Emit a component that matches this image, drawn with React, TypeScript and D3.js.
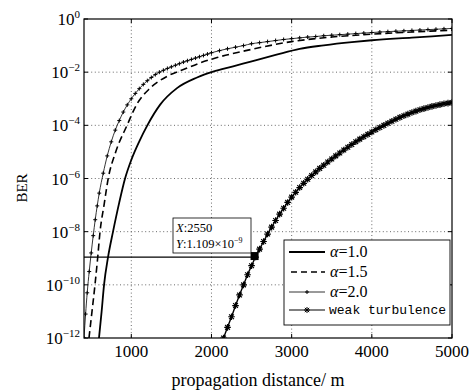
import React from "react";
import * as d3 from "d3";

// ---- data (distance in m, log10 BER) ----
const xTickValues = [1000, 2000, 3000, 4000, 5000];
const yTickExponents = [0, -2, -4, -6, -8, -10, -12];

const alpha10Dist = [597, 630, 660, 710, 772, 850, 922, 1000, 1100, 1200, 1360, 1570, 1820, 2020, 2270, 2490, 2800, 3100, 3400, 3750, 4000, 4500, 5000];
const alpha10Log = [-12, -11, -10, -8.955, -8, -6.9, -6, -5.3, -4.6, -4.0, -3.22, -2.6, -2.2, -1.98, -1.78, -1.6, -1.35, -1.12, -0.99, -0.87, -0.8, -0.7, -0.6];

const alpha15Dist = [472, 510, 547, 580, 610, 660, 712, 800, 947, 1070, 1235, 1450, 1650, 1860, 2070, 2490, 3000, 3500, 4000, 4500, 5000];
const alpha15Log = [-12, -11, -10, -9, -8, -7, -6, -5.05, -4, -3.2, -2.6, -2.15, -1.9, -1.65, -1.45, -1.15, -0.85, -0.68, -0.57, -0.49, -0.42];

const alpha20Dist = [410, 430, 450, 475, 500, 525, 550, 575, 600, 650, 700, 750, 800, 850, 900, 950, 1000, 1050, 1100, 1150, 1200, 1250, 1300, 1350, 1400, 1450, 1500, 1550, 1600, 1650, 1700, 1750, 1800, 1850, 1900, 1950, 2000, 2100, 2200, 2300, 2400, 2500, 2600, 2700, 2800, 2900, 3000, 3100, 3200, 3300, 3400, 3500, 3600, 3700, 3800, 3900, 4000, 4100, 4200, 4300, 4400, 4500, 4600, 4700, 4800, 4900, 5000];
const alpha20Log = [-12, -11.1, -10.3, -9.5, -8.8, -8.15, -7.55, -7.03, -6.55, -5.8, -5.15, -4.62, -4.18, -3.82, -3.5, -3.23, -3.0, -2.8, -2.62, -2.46, -2.32, -2.2, -2.09, -2.0, -1.93, -1.86, -1.8, -1.74, -1.68, -1.62, -1.57, -1.52, -1.47, -1.42, -1.37, -1.32, -1.27, -1.19, -1.12, -1.06, -1.0, -0.93, -0.89, -0.85, -0.81, -0.77, -0.74, -0.71, -0.68, -0.66, -0.63, -0.61, -0.59, -0.57, -0.55, -0.53, -0.51, -0.49, -0.475, -0.46, -0.445, -0.43, -0.415, -0.4, -0.385, -0.37, -0.355];

const weakDist = [2150, 2200, 2250, 2300, 2350, 2400, 2450, 2500, 2550, 2600, 2650, 2700, 2750, 2800, 2850, 2900, 2950, 3000, 3050, 3100, 3150, 3200, 3250, 3300, 3350, 3400, 3450, 3500, 3550, 3600, 3650, 3700, 3750, 3800, 3850, 3900, 3950, 4000, 4050, 4100, 4150, 4200, 4250, 4300, 4350, 4400, 4450, 4500, 4550, 4600, 4650, 4700, 4750, 4800, 4850, 4900, 4950, 5000];
const weakLog = [-12, -11.6, -11.2, -10.78, -10.38, -10.0, -9.62, -9.28, -8.955, -8.655, -8.37, -8.09, -7.83, -7.58, -7.34, -7.12, -6.9, -6.7, -6.52, -6.34, -6.18, -6.03, -5.885, -5.75, -5.62, -5.5, -5.38, -5.265, -5.15, -5.04, -4.93, -4.825, -4.72, -4.62, -4.52, -4.43, -4.34, -4.25, -4.165, -4.08, -4.0, -3.92, -3.845, -3.77, -3.7, -3.637, -3.577, -3.52, -3.466, -3.416, -3.37, -3.327, -3.288, -3.252, -3.22, -3.19, -3.165, -3.14];

const tipX = 2550;
const tipY = 1.109e-9;

const legendLabels = ["=1.0", "=1.5", "=2.0", "weak turbulence"];

const W = 469, H = 391;
const L = 84, R = 452, T = 19, B = 338;
const SERIF = "Liberation Serif";
const MONO = "Liberation Mono";

function toPts(ds: number[], ls: number[]): [number, number][] {
  return ds.map((d, i) => [d, Math.pow(10, ls[i])]);
}

function star(r: number) {
  const a = r * 0.72;
  return `M${-r},0H${r}M0,${-r}V${r}M${-a},${-a}L${a},${a}M${-a},${a}L${a},${-a}`;
}
function plus(r: number) {
  return `M${-r},0H${r}M0,${-r}V${r}`;
}

const serifStyle = { fontFamily: SERIF };

export default function App() {
  const x = d3.scaleLinear().domain([410, 5000]).range([L, R]);
  const y = d3.scaleLog().domain([1e-12, 1]).range([B, T]);
  const line = d3
    .line<[number, number]>()
    .x((d) => x(d[0]))
    .y((d) => y(d[1]))
    .curve(d3.curveMonotoneX);

  const s10 = toPts(alpha10Dist, alpha10Log);
  const s15 = toPts(alpha15Dist, alpha15Log);
  const s20 = toPts(alpha20Dist, alpha20Log);
  const sw = toPts(weakDist, weakLog);

  const gridX = xTickValues.filter((v) => v < 5000);
  const gridY = yTickExponents.filter((e) => e < 0 && e > -12);

  const legendY = [252, 272, 292, 310];

  return (
    <svg
      width={W}
      height={H}
      style={{ position: "absolute", left: 0, top: 0, background: "#fff" }}
    >
      <defs>
        <clipPath id="plotclip">
          <rect x={L} y={T} width={R - L} height={B - T} />
        </clipPath>
      </defs>
      <rect x={0} y={0} width={W} height={H} fill="#fff" />
      {/* grid */}
      <g stroke="#444" strokeWidth={0.8} strokeDasharray="1,2.6">
        {gridX.map((v) => (
          <line key={"gx" + v} x1={x(v)} x2={x(v)} y1={T} y2={B} />
        ))}
        {gridY.map((e) => (
          <line key={"gy" + e} x1={L} x2={R} y1={y(Math.pow(10, e))} y2={y(Math.pow(10, e))} />
        ))}
      </g>
      {/* ticks */}
      <g stroke="#000" strokeWidth={1}>
        {xTickValues.map((v) => (
          <g key={"tx" + v}>
            <line x1={x(v)} x2={x(v)} y1={B} y2={B - 4} />
            <line x1={x(v)} x2={x(v)} y1={T} y2={T + 4} />
          </g>
        ))}
        {yTickExponents.map((e) => (
          <g key={"ty" + e}>
            <line x1={L} x2={L + 4} y1={y(Math.pow(10, e))} y2={y(Math.pow(10, e))} />
            <line x1={R} x2={R - 4} y1={y(Math.pow(10, e))} y2={y(Math.pow(10, e))} />
          </g>
        ))}
      </g>
      {/* series */}
      <g clipPath="url(#plotclip)" fill="none" stroke="#000">
        <path d={line(s10) || ""} strokeWidth={1.8} />
        <path d={line(s15) || ""} strokeWidth={1.6} strokeDasharray="7,4" />
        <path d={line(s20) || ""} strokeWidth={0.8} />
        {s20.map((p, i) => (
          <path key={"m20" + i} d={plus(2)} transform={`translate(${x(p[0])},${y(p[1])})`} strokeWidth={1} />
        ))}
        <path d={line(sw) || ""} strokeWidth={1.4} />
        {sw.map((p, i) => (
          <path key={"mw" + i} d={star(3.3)} transform={`translate(${x(p[0])},${y(p[1])})`} strokeWidth={1.2} />
        ))}
        <line x1={L} x2={x(tipX)} y1={y(tipY)} y2={y(tipY)} strokeWidth={1.3} />
      </g>
      {/* data tip */}
      <rect x={x(tipX) - 5} y={y(tipY) - 5} width={8} height={8} fill="#000" />
      <rect x={173} y={218} width={78} height={35} fill="#fff" stroke="#000" strokeWidth={0.8} />
      <text x={176} y={232} fontSize={12.5} style={serifStyle}>
        <tspan fontStyle="italic">X</tspan>:{tipX}
      </text>
      <text x={176} y={248} fontSize={12.5} style={serifStyle}>
        <tspan fontStyle="italic">Y</tspan>:1.109×10
        <tspan dy={-5} fontSize={8}>−9</tspan>
      </text>
      {/* frame */}
      <rect x={L} y={T} width={R - L} height={B - T} fill="none" stroke="#000" strokeWidth={1.2} />
      {/* y tick labels */}
      {yTickExponents.map((e) => (
        <text key={"yl" + e} x={80} y={y(Math.pow(10, e)) + 6} fontSize={17} textAnchor="end" style={serifStyle}>
          10
          <tspan dy={-7} fontSize={11}>{e === 0 ? "0" : "−" + Math.abs(e)}</tspan>
        </text>
      ))}
      {/* x tick labels */}
      {xTickValues.map((v) => (
        <text key={"xl" + v} x={x(v)} y={357} fontSize={17} textAnchor="middle" style={serifStyle}>
          {v}
        </text>
      ))}
      <text x={258} y={386} fontSize={18} textAnchor="middle" style={serifStyle}>
        propagation distance/ m
      </text>
      <text transform="translate(27,188) rotate(-90)" fontSize={15} textAnchor="middle" style={serifStyle}>
        BER
      </text>
      {/* legend */}
      <rect x={284} y={240} width={166} height={85} fill="#fff" stroke="#000" strokeWidth={0.9} />
      <g stroke="#000" fill="none">
        <line x1={289} x2={325} y1={legendY[0]} y2={legendY[0]} strokeWidth={1.8} />
        <line x1={291} x2={325} y1={legendY[1]} y2={legendY[1]} strokeWidth={1.6} strokeDasharray="6,4" />
        <line x1={289} x2={325} y1={legendY[2]} y2={legendY[2]} strokeWidth={0.8} />
        <path d={plus(2)} transform={`translate(307,${legendY[2]})`} strokeWidth={1} />
        <line x1={289} x2={325} y1={legendY[3]} y2={legendY[3]} strokeWidth={1.2} />
        <path d={star(3)} transform={`translate(307,${legendY[3]})`} strokeWidth={1} />
      </g>
      {legendLabels.slice(0, 3).map((lab, i) => (
        <text key={"lg" + i} x={330} y={legendY[i] + 5} fontSize={16} style={serifStyle}>
          <tspan fontStyle="italic">α</tspan>
          {lab}
        </text>
      ))}
      <text x={329} y={legendY[3] + 4} fontSize={13} style={{ fontFamily: MONO }}>
        {legendLabels[3]}
      </text>
    </svg>
  );
}
